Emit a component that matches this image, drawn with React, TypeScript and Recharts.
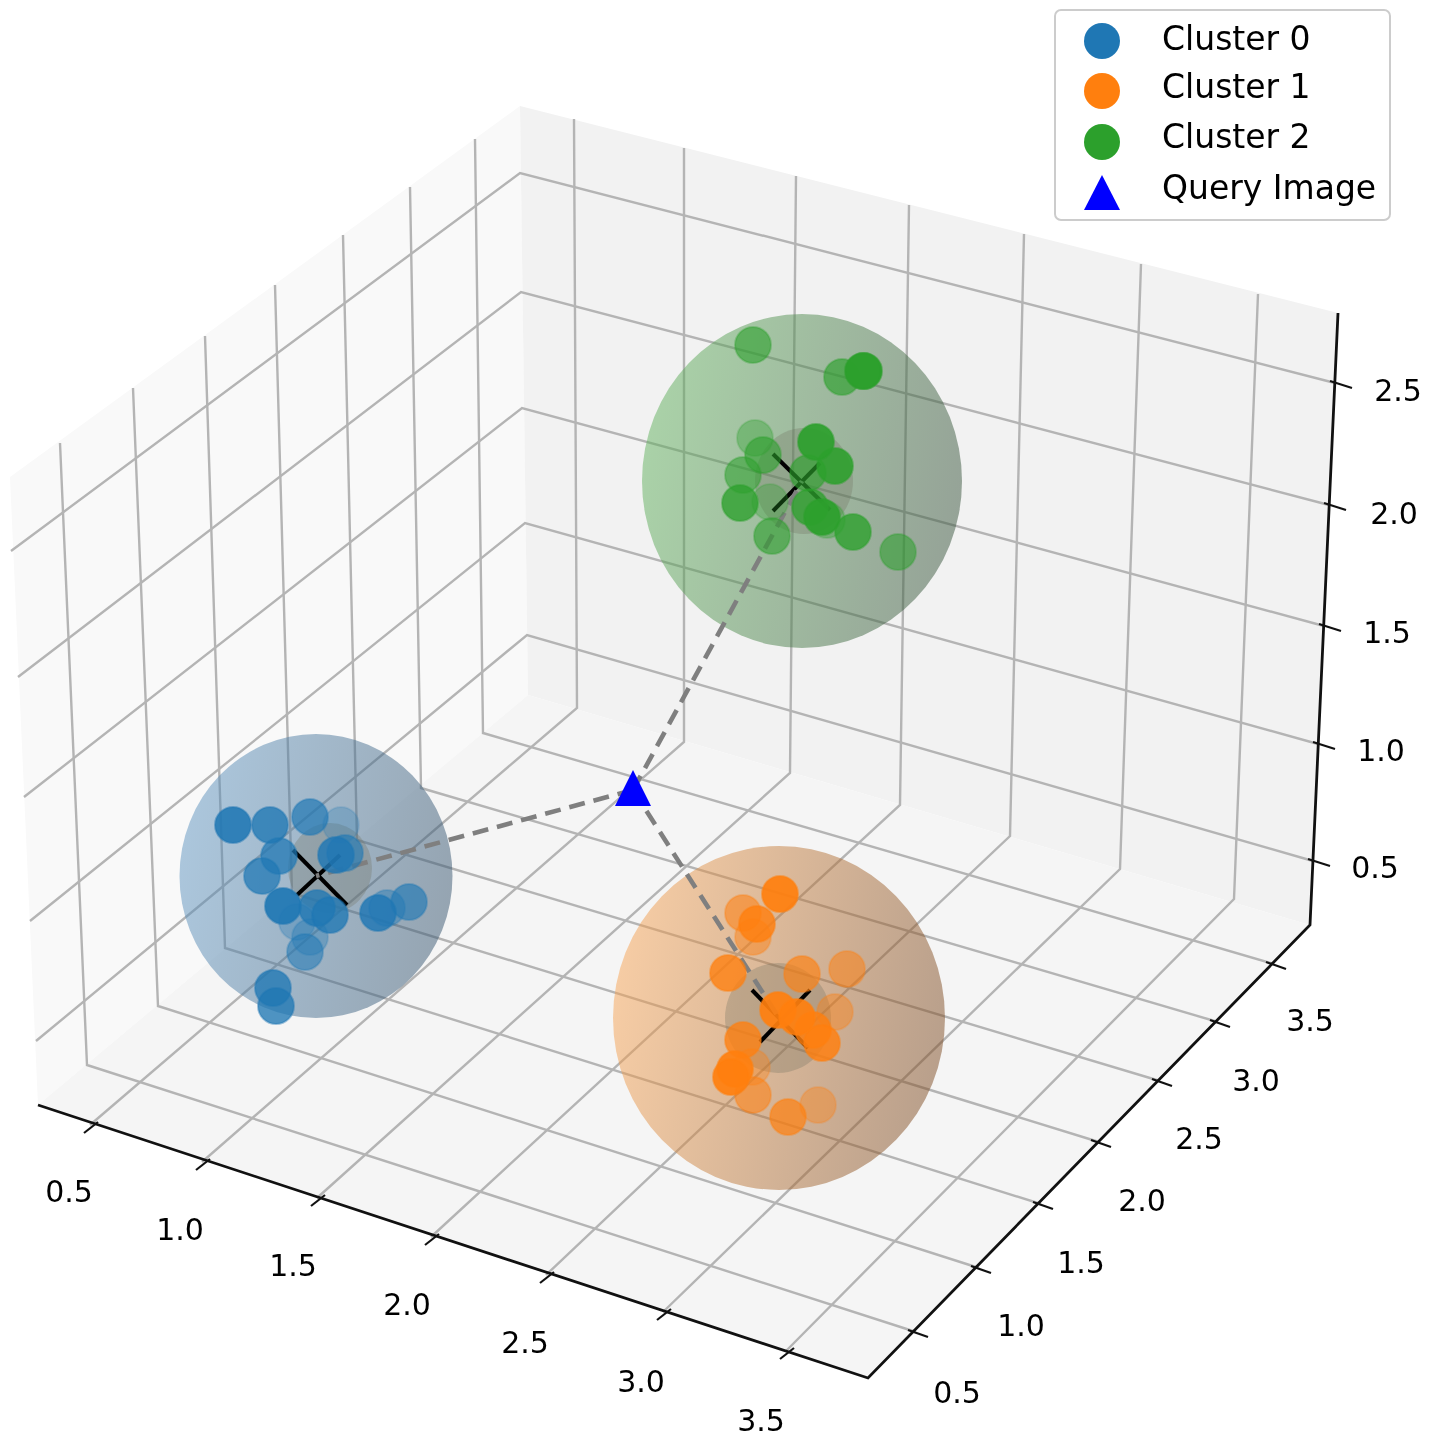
// App.tsx
//
// 3D cluster scatter (matplotlib mplot3d look) redrawn as a flat Recharts scatter.
// Every value below is a position, on a plane that spans
// the full figure, so the x and y axes simply map that plane onto the chart.

import { ScatterChart, Scatter, XAxis, YAxis, Legend } from 'recharts';

const WIDTH = 1429;
const HEIGHT = 1439;

type Pt = { x: number; y: number };
type Dot = Pt & { depth: number };

// ─── Cube ─────────────────────────────────────────────────────────────────────

const leftPane: Pt[] = [{ x: 10, y: 477 }, { x: 520, y: 106 }, { x: 528, y: 695 }, { x: 38, y: 1105 }];
const rightPane: Pt[] = [{ x: 520, y: 106 }, { x: 1338, y: 313 }, { x: 1310, y: 925 }, { x: 528, y: 695 }];
const floorPane: Pt[] = [{ x: 528, y: 695 }, { x: 1310, y: 925 }, { x: 868, y: 1378 }, { x: 38, y: 1105 }];
const axisEdge: Pt[] = [{ x: 38, y: 1105 }, { x: 868, y: 1378 }, { x: 1310, y: 925 }, { x: 1338, y: 313 }];

const xTicks: Pt[] = [
  { x: 90, y: 1125 }, { x: 202, y: 1162 }, { x: 317, y: 1198 }, { x: 431, y: 1237 },
  { x: 546, y: 1275 }, { x: 663, y: 1312 }, { x: 786, y: 1351 },
];
const yTicks: Pt[] = [
  { x: 916, y: 1332 }, { x: 979, y: 1268 }, { x: 1041, y: 1204 }, { x: 1099, y: 1142 },
  { x: 1160, y: 1081 }, { x: 1218, y: 1022 }, { x: 1274, y: 964 },
];
const zTicks: Pt[] = [
  { x: 1313, y: 861 }, { x: 1318, y: 744 }, { x: 1324, y: 626 }, { x: 1329, y: 505 }, { x: 1335, y: 383 },
];

// Wall columns: top of the wall, then where they meet the floor
const leftWallTops: Pt[] = [
  { x: 60, y: 443 }, { x: 133, y: 388 }, { x: 205, y: 336 }, { x: 275, y: 285 },
  { x: 343, y: 235 }, { x: 410, y: 187 }, { x: 475, y: 139 },
];
const leftWallBases: Pt[] = [
  { x: 87, y: 1065 }, { x: 158, y: 1006 }, { x: 225, y: 948 }, { x: 292, y: 893 },
  { x: 357, y: 840 }, { x: 421, y: 788 }, { x: 483, y: 733 },
];
const rightWallTops: Pt[] = [
  { x: 574, y: 119 }, { x: 684, y: 148 }, { x: 796, y: 176 }, { x: 909, y: 205 },
  { x: 1024, y: 234 }, { x: 1141, y: 264 }, { x: 1258, y: 294 },
];
const rightWallBases: Pt[] = [
  { x: 577, y: 708 }, { x: 684, y: 742 }, { x: 790, y: 773 }, { x: 900, y: 805 },
  { x: 1010, y: 836 }, { x: 1120, y: 869 }, { x: 1234, y: 899 },
];

// Height rings: left wall edge, back corner, then the z axis ticks
const ringStarts: Pt[] = [
  { x: 36, y: 1041 }, { x: 30, y: 921 }, { x: 24, y: 797 }, { x: 18, y: 677 }, { x: 11, y: 551 },
];
const ringCorners: Pt[] = [
  { x: 527, y: 635 }, { x: 525, y: 523 }, { x: 522, y: 408 }, { x: 521, y: 292 }, { x: 520, y: 173 },
];

// ─── Tick labels ──────────────────────────────────────────────────────────────

const xTickLabels = [
  { x: 69, y: 1191, label: '0.5' }, { x: 180, y: 1229, label: '1.0' }, { x: 293, y: 1265, label: '1.5' },
  { x: 407, y: 1304, label: '2.0' }, { x: 525, y: 1342, label: '2.5' }, { x: 641, y: 1381, label: '3.0' },
  { x: 761, y: 1420, label: '3.5' },
];
const yTickLabels = [
  { x: 957, y: 1392, label: '0.5' }, { x: 1021, y: 1325, label: '1.0' }, { x: 1081, y: 1262, label: '1.5' },
  { x: 1142, y: 1200, label: '2.0' }, { x: 1199, y: 1138, label: '2.5' }, { x: 1256, y: 1080, label: '3.0' },
  { x: 1310, y: 1020, label: '3.5' },
];
const zTickLabels = [
  { x: 1375, y: 867, label: '0.5' }, { x: 1381, y: 750, label: '1.0' }, { x: 1387, y: 632, label: '1.5' },
  { x: 1394, y: 513, label: '2.0' }, { x: 1398, y: 390, label: '2.5' },
];

// ─── Clusters ─────────────────────────────────────────────────────────────────

const cluster0: Dot[] = [
  { x: 341, y: 825, depth: 0.3 }, { x: 297, y: 922, depth: 0.35 }, { x: 310, y: 937, depth: 0.4 },
  { x: 387, y: 908, depth: 0.5 }, { x: 305, y: 952, depth: 0.6 }, { x: 409, y: 902, depth: 0.7 },
  { x: 345, y: 853, depth: 0.7 }, { x: 310, y: 817, depth: 0.75 }, { x: 279, y: 856, depth: 0.8 },
  { x: 262, y: 876, depth: 0.8 }, { x: 270, y: 825, depth: 0.85 }, { x: 317, y: 908, depth: 0.85 },
  { x: 330, y: 915, depth: 0.85 }, { x: 273, y: 988, depth: 0.85 }, { x: 276, y: 1006, depth: 0.85 },
  { x: 336, y: 855, depth: 0.9 }, { x: 378, y: 913, depth: 0.9 }, { x: 233, y: 825, depth: 0.95 },
  { x: 283, y: 906, depth: 1 },
];
const cluster1: Dot[] = [
  { x: 818, y: 1105, depth: 0.4 }, { x: 752, y: 1067, depth: 0.4 }, { x: 835, y: 1012, depth: 0.45 },
  { x: 753, y: 937, depth: 0.5 }, { x: 847, y: 969, depth: 0.55 }, { x: 743, y: 913, depth: 0.6 },
  { x: 753, y: 1095, depth: 0.6 }, { x: 802, y: 974, depth: 0.7 }, { x: 788, y: 1117, depth: 0.75 },
  { x: 728, y: 973, depth: 0.85 }, { x: 743, y: 1040, depth: 0.85 }, { x: 757, y: 924, depth: 0.9 },
  { x: 813, y: 1030, depth: 0.9 }, { x: 822, y: 1043, depth: 0.9 }, { x: 780, y: 894, depth: 1 },
  { x: 778, y: 1010, depth: 1 }, { x: 797, y: 1017, depth: 1 }, { x: 735, y: 1069, depth: 1 },
  { x: 731, y: 1077, depth: 1 },
];
const cluster2: Dot[] = [
  { x: 770, y: 502, depth: 0.35 }, { x: 755, y: 438, depth: 0.4 }, { x: 827, y: 520, depth: 0.4 },
  { x: 743, y: 475, depth: 0.6 }, { x: 898, y: 552, depth: 0.6 }, { x: 753, y: 345, depth: 0.65 },
  { x: 763, y: 455, depth: 0.65 }, { x: 772, y: 536, depth: 0.65 }, { x: 842, y: 377, depth: 0.7 },
  { x: 808, y: 473, depth: 0.7 }, { x: 740, y: 503, depth: 0.85 }, { x: 810, y: 507, depth: 0.85 },
  { x: 853, y: 532, depth: 0.85 }, { x: 835, y: 466, depth: 0.95 }, { x: 864, y: 371, depth: 1 },
  { x: 863, y: 371, depth: 1 }, { x: 816, y: 442, depth: 1 }, { x: 822, y: 517, depth: 1 },
];

const sphereCenters: Pt[] = [{ x: 316, y: 876 }, { x: 779, y: 1018 }, { x: 802, y: 481 }];
const coreCenters: Pt[] = [{ x: 330, y: 868 }, { x: 778, y: 1018 }, { x: 804, y: 481 }];

// Black crosses at the cluster centres
const crossArms: Pt[][] = [
  [{ x: 293, y: 850 }, { x: 347, y: 905 }],
  [{ x: 297, y: 895 }, { x: 340, y: 855 }],
  [{ x: 752, y: 990 }, { x: 808, y: 1048 }],
  [{ x: 760, y: 1042 }, { x: 810, y: 990 }],
  [{ x: 773, y: 454 }, { x: 830, y: 510 }],
  [{ x: 773, y: 511 }, { x: 820, y: 463 }],
];

const queryPoint: Pt[] = [{ x: 633, y: 790 }];
const queryLinks: Pt[][] = [
  [{ x: 633, y: 790 }, { x: 316, y: 876 }],
  [{ x: 633, y: 790 }, { x: 779, y: 1018 }],
  [{ x: 633, y: 790 }, { x: 802, y: 481 }],
];

const legendLabels = ['Cluster 0', 'Cluster 1', 'Cluster 2', 'Query Image'];

// ─── Styling ──────────────────────────────────────────────────────────────────

const CLUSTER_COLORS = ['#1f77b4', '#ff7f0e', '#2ca02c'];
const SPHERE_RADII = [{ rx: 136.5, ry: 142 }, { rx: 166, ry: 172 }, { rx: 160, ry: 167 }];
const CORE_RADII = [{ rx: 42, ry: 45 }, { rx: 53, ry: 55 }, { rx: 49, ry: 53 }];
const SPHERE_STOPS = [
  ['#5e94c0', '#36546e'],
  ['#f8a454', '#7c4a22'],
  ['#62b25e', '#39543d'],
];
const GRID = '#b4b4b4';
const FONT = '"DejaVu Sans", sans-serif';

const noMark = () => <g />;

// ─── Helpers ──────────────────────────────────────────────────────────────────

const polyline = (key: string, data: Pt[], stroke: string, strokeWidth: number, dash?: string) => (
  <Scatter
    key={key}
    data={data}
    shape={noMark}
    line={{ stroke, strokeWidth, strokeDasharray: dash, fill: 'none' }}
    isAnimationActive={false}
  />
);

const pane = (key: string, data: Pt[], fill: string) => (
  <Scatter
    key={key}
    data={data}
    shape={noMark}
    line={{ fill, stroke: 'none', strokeWidth: 0 }}
    isAnimationActive={false}
  />
);

const tickLabels = (key: string, data: { x: number; y: number; label: string }[]) => (
  <Scatter
    key={key}
    data={data}
    isAnimationActive={false}
    shape={(p: any) => (
      <text
        x={p.cx}
        y={p.cy}
        textAnchor="middle"
        dominantBaseline="central"
        fontFamily={FONT}
        fontSize={30}
        fill="#000000"
      >
        {p.payload.label}
      </text>
    )}
  />
);

const DotMark = ({ cx, cy, payload, color }: any) => (
  <circle
    cx={cx}
    cy={cy}
    r={18}
    fill={color}
    fillOpacity={payload.depth * 0.92}
    stroke={color}
    strokeOpacity={payload.depth * 0.5}
    strokeWidth={2}
  />
);

function LegendBox() {
  return (
    <svg width={337} height={212} style={{ display: 'block' }}>
      <rect x={1} y={1} width={335} height={210} rx={6} fill="#ffffff" fillOpacity={0.85} stroke="#cccccc" strokeWidth={2} />
      {legendLabels.map((label, i) => {
        const rowY = [29, 77, 127, 178][i];
        const markY = [32, 82, 133][i];
        return (
          <g key={label}>
            {i < 3 ? (
              <circle cx={48} cy={markY} r={18} fill={CLUSTER_COLORS[i]} />
            ) : (
              <polygon points="48,166 66,201 30,201" fill="#0000ff" />
            )}
            <text x={108} y={rowY} dominantBaseline="central" fontFamily={FONT} fontSize={33} fill="#000000">
              {label}
            </text>
          </g>
        );
      })}
    </svg>
  );
}

// ─── Chart ────────────────────────────────────────────────────────────────────

export default function App() {
  return (
    <div style={{ position: 'absolute', left: 0, top: 0, width: WIDTH, height: HEIGHT, background: '#fff', filter: 'blur(0.6px)' }}>
      <ScatterChart width={WIDTH} height={HEIGHT} margin={{ top: 0, right: 0, bottom: 0, left: 0 }}>
        <defs>
          {SPHERE_STOPS.map(([from, to], i) => (
            <linearGradient key={i} id={`sphere-${i}`} x1="0" y1="0.4" x2="1" y2="0.6">
              <stop offset="0%" stopColor={from} />
              <stop offset="100%" stopColor={to} />
            </linearGradient>
          ))}
        </defs>

        <XAxis type="number" dataKey="x" domain={[0, WIDTH]} hide />
        <YAxis type="number" dataKey="y" domain={[0, HEIGHT]} reversed hide />

        {pane('pane-left', leftPane, '#f9f9f9')}
        {pane('pane-right', rightPane, '#f2f2f2')}
        {pane('pane-floor', floorPane, '#f5f5f5')}

        {leftWallTops.map((top, i) =>
          polyline(`col-l-${i}`, [top, leftWallBases[i], yTicks[i]], GRID, 2.4),
        )}
        {rightWallTops.map((top, i) =>
          polyline(`col-r-${i}`, [top, rightWallBases[i], xTicks[i]], GRID, 2.4),
        )}
        {ringStarts.map((start, i) =>
          polyline(`ring-${i}`, [start, ringCorners[i], zTicks[i]], GRID, 2.4),
        )}

        {polyline('axis-edge', axisEdge, '#111111', 2.8)}
        {xTicks.map((t, i) =>
          polyline(`x-tick-${i}`, [{ x: t.x - 6, y: t.y + 8 }, { x: t.x + 8, y: t.y - 3 }], '#111111', 2.2),
        )}
        {yTicks.map((t, i) =>
          polyline(`y-tick-${i}`, [{ x: t.x - 8, y: t.y - 2 }, { x: t.x + 12, y: t.y + 5 }], '#111111', 2.2),
        )}
        {zTicks.map((t, i) =>
          polyline(`z-tick-${i}`, [{ x: t.x - 5, y: t.y - 2 }, { x: t.x + 17, y: t.y + 5 }], '#111111', 2.2),
        )}

        {tickLabels('x-labels', xTickLabels)}
        {tickLabels('y-labels', yTickLabels)}
        {tickLabels('z-labels', zTickLabels)}

        {sphereCenters.map((c, i) => (
          <Scatter
            key={`sphere-${i}`}
            data={[c]}
            isAnimationActive={false}
            shape={(p: any) => (
              <ellipse cx={p.cx} cy={p.cy} {...SPHERE_RADII[i]} fill={`url(#sphere-${i})`} fillOpacity={0.5} />
            )}
          />
        ))}
        {coreCenters.map((c, i) => (
          <Scatter
            key={`core-${i}`}
            data={[c]}
            isAnimationActive={false}
            shape={(p: any) => (
              <ellipse cx={p.cx} cy={p.cy} {...CORE_RADII[i]} fill="#6f6f60" fillOpacity={0.3} />
            )}
          />
        ))}

        {crossArms.map((arm, i) => polyline(`cross-${i}`, arm, '#000000', 4))}
        {queryLinks.map((link, i) => polyline(`link-${i}`, link, '#7f7f7f', 4.6, '16 9'))}

        {[cluster0, cluster1, cluster2].map((dots, i) => (
          <Scatter
            key={`cluster-${i}`}
            name={legendLabels[i]}
            data={dots}
            isAnimationActive={false}
            shape={(p: any) => <DotMark {...p} color={CLUSTER_COLORS[i]} />}
          />
        ))}

        <Scatter
          name={legendLabels[3]}
          data={queryPoint}
          isAnimationActive={false}
          shape={(p: any) => (
            <polygon
              points={`${p.cx},${p.cy - 20} ${p.cx + 18},${p.cy + 16} ${p.cx - 18},${p.cy + 16}`}
              fill="#0000ff"
            />
          )}
        />

        <Legend
          layout="vertical"
          align="center"
          verticalAlign="middle"
          content={<LegendBox />}
          wrapperStyle={{ left: 1054, top: 9, width: 337, height: 212 }}
        />
      </ScatterChart>
    </div>
  );
}
